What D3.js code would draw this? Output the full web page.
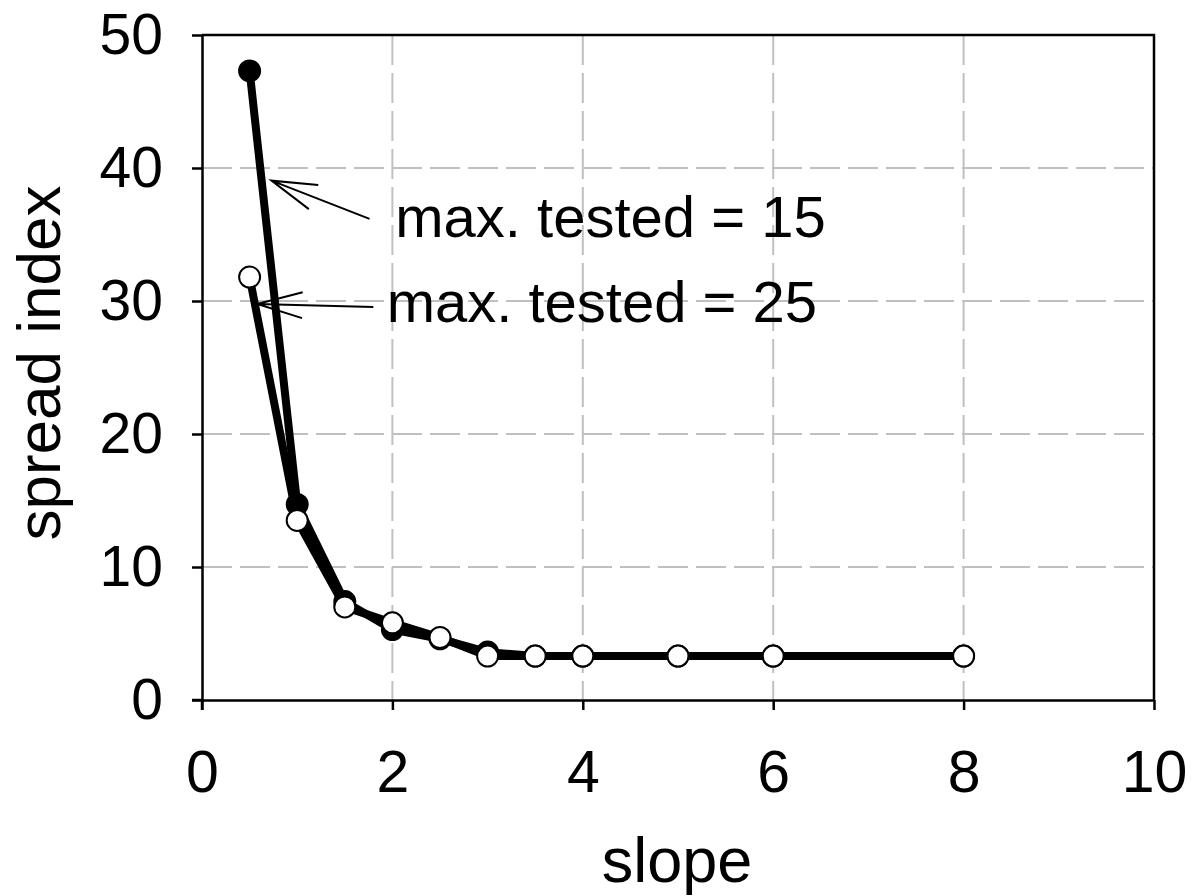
<!DOCTYPE html>
<html>
<head>
<meta charset="utf-8">
<script src="https://cdn.jsdelivr.net/npm/d3@7"></script>
<style>
  body { margin: 0; background: #fff; }
  svg text { font-family: "Liberation Sans", Arial, sans-serif; fill: #000; }
</style>
</head>
<body>
<svg id="chart" width="1193" height="896"></svg>
<script>
// data
const slopes = [0.5, 1, 1.5, 2, 2.5, 3, 3.5, 4, 5, 6, 8];
const spread15 = [47.3, 14.7, 7.4, 5.3, 4.6, 3.6, 3.3, 3.3, 3.3, 3.3, 3.3];
const spread25 = [31.8, 13.5, 7.0, 5.8, 4.7, 3.3, 3.3, 3.3, 3.3, 3.3, 3.3];
const xTicks = [0, 2, 4, 6, 8, 10];
const yTicks = [0, 10, 20, 30, 40, 50];
const notes = [
  {text: "max. tested = 15", tx: 2.03, ty: 34.8, tail: [1.76, 36.17], tip: [0.73, 39.05]},
  {text: "max. tested = 25", tx: 1.94, ty: 28.4, tail: [1.80, 29.55], tip: [0.58, 29.77]}
];

const plotLeft = 202, plotRight = 1154, plotTop = 35, plotBottom = 700;
const svg = d3.select("#chart");

const x = d3.scaleLinear().domain([0, 10]).range([plotLeft, plotRight]);
const y = d3.scaleLinear().domain([0, 50]).range([plotBottom, plotTop]);

// grid
svg.append("g").selectAll("line")
  .data(xTicks.filter(d => d > 0 && d < 10))
  .enter().append("line")
  .attr("x1", d => x(d)).attr("x2", d => x(d))
  .attr("y1", plotTop).attr("y2", plotBottom)
  .style("stroke", "#c0c0c0").style("stroke-width", 2)
  .style("stroke-dasharray", "30,8");

svg.append("g").selectAll("line")
  .data(yTicks.filter(d => d > 0 && d < 50))
  .enter().append("line")
  .attr("x1", plotLeft).attr("x2", plotRight)
  .attr("y1", d => y(d)).attr("y2", d => y(d))
  .style("stroke", "#c0c0c0").style("stroke-width", 2)
  .style("stroke-dasharray", "30,8");

// frame top/right
svg.append("path")
  .attr("d", `M${plotLeft},${plotTop}H${plotRight}V${plotBottom}`)
  .style("fill", "none").style("stroke", "#000").style("stroke-width", 2.5);

// axes
const xAxis = svg.append("g")
  .attr("transform", `translate(0,${plotBottom})`)
  .call(d3.axisBottom(x).tickValues(xTicks).tickSize(10).tickSizeOuter(0).tickPadding(40));
const yAxis = svg.append("g")
  .attr("transform", `translate(${plotLeft},0)`)
  .call(d3.axisLeft(y).tickValues(yTicks).tickSize(10).tickSizeOuter(0).tickPadding(29));

[xAxis, yAxis].forEach(a => {
  a.select(".domain").style("stroke", "#000").style("stroke-width", 2.5);
  a.selectAll(".tick line").style("stroke", "#000").style("stroke-width", 2.5);
  a.selectAll(".tick text").style("fill", "#000")
    .style("font-family", "'Liberation Sans', Arial, sans-serif");
});
xAxis.selectAll(".tick text").style("font-size", "59px").attr("dy", "0.71em");
yAxis.selectAll(".tick text").style("font-size", "57px");
xAxis.append("line").attr("x1", plotLeft - 10).attr("x2", plotLeft)
  .style("stroke", "#000").style("stroke-width", 2.5);
yAxis.append("line").attr("y1", plotBottom).attr("y2", plotBottom + 10)
  .style("stroke", "#000").style("stroke-width", 2.5);

// axis titles
svg.append("text")
  .attr("x", 677).attr("y", 882)
  .attr("text-anchor", "middle")
  .style("font-size", "63px")
  .text("slope");

svg.append("text")
  .attr("transform", "translate(60,363) rotate(-90)")
  .attr("text-anchor", "middle")
  .style("font-size", "62px")
  .text("spread index");

// series
const line = d3.line().x(d => x(d[0])).y(d => y(d[1]));
const pts15 = slopes.map((s, i) => [s, spread15[i]]);
const pts25 = slopes.map((s, i) => [s, spread25[i]]);

function drawSeries(pts, fill) {
  const g = svg.append("g");
  g.append("path").datum(pts)
    .attr("d", line)
    .style("fill", "none").style("stroke", "#000")
    .style("stroke-width", 8).style("stroke-linejoin", "round");
  g.selectAll("circle").data(pts).enter().append("circle")
    .attr("cx", d => x(d[0])).attr("cy", d => y(d[1]))
    .attr("r", 10.5)
    .style("fill", fill).style("stroke", "#000").style("stroke-width", 2);
}
drawSeries(pts15, "#000");
drawSeries(pts25, "#fff");

// annotations with open arrowheads
notes.forEach(n => {
  const tx = x(n.tail[0]), ty = y(n.tail[1]);
  const px = x(n.tip[0]), py = y(n.tip[1]);
  const ang = Math.atan2(ty - py, tx - px);
  const len = 47, spread = 16 * Math.PI / 180;
  const b1 = [px + len * Math.cos(ang - spread), py + len * Math.sin(ang - spread)];
  const b2 = [px + len * Math.cos(ang + spread), py + len * Math.sin(ang + spread)];
  svg.append("path")
    .attr("d", `M${tx},${ty}L${px},${py}M${b1[0]},${b1[1]}L${px},${py}L${b2[0]},${b2[1]}`)
    .style("fill", "none").style("stroke", "#000").style("stroke-width", 2);
  svg.append("text")
    .attr("x", x(n.tx)).attr("y", y(n.ty))
    .style("font-size", "58px")
    .text(n.text);
});
</script>
</body>
</html>
